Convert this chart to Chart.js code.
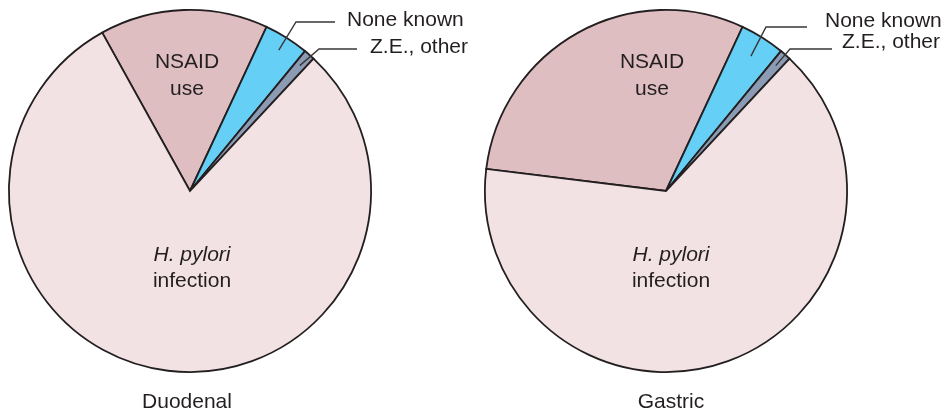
<!DOCTYPE html>
<html>
<head>
<meta charset="utf-8">
<script src="https://cdn.jsdelivr.net/npm/chart.js@4/dist/chart.umd.min.js"></script>
<style>
	html, body { margin:0; padding:0; background:#ffffff; }
	#wrap { position:relative; width:941px; height:414px; overflow:hidden; }
	.box { position:absolute; top:0; height:414px; }
</style>
</head>
<body>
<div id="wrap">
	<div class="box" style="left:0px;width:476px;"><canvas id="canvas_duodenal"></canvas></div>
	<div class="box" style="left:476px;width:465px;"><canvas id="canvas_gastric"></canvas></div>
</div>
<script>
// ulcer causes, percent of cases
var categories = ["NSAID use", "None known", "Z.E., other", "H. pylori infection"];
var duodenalValues = [15, 4, 1, 80];
var gastricValues = [30, 4, 1, 65];
var pieTitles = ["Duodenal", "Gastric"];

var sliceColors = ["#dfbec2", "#66cff5", "#8b9bb4", "#f2e2e3"];
var inkColor = "#231f20";
var fontName = '"Liberation Sans", Arial, Helvetica, sans-serif';

// text inside the slices and the two callouts, offsets from the pie centre
function drawLabels(chart, args, opts){
	var ctx = chart.ctx;
	var meta = chart.getDatasetMeta(0);
	var cx = meta.data[0].x;
	var cy = meta.data[0].y;
	ctx.save();
	ctx.fillStyle = inkColor;
	ctx.textAlign = "center";
	ctx.textBaseline = "alphabetic";
	ctx.font = "21px " + fontName;
	ctx.fillText("NSAID", cx + opts.nsaid[0], cy + opts.nsaid[1]);
	ctx.fillText("use", cx + opts.nsaid[0], cy + opts.nsaid[1] + 27);
	ctx.font = "italic 21px " + fontName;
	ctx.fillText("H. pylori", cx + opts.pylori[0], cy + opts.pylori[1]);
	ctx.font = "21px " + fontName;
	ctx.fillText("infection", cx + opts.pylori[0], cy + opts.pylori[1] + 26);

	// leader lines for the thin slices
	ctx.strokeStyle = "#3a3637";
	ctx.lineWidth = 1.4;
	ctx.textAlign = "left";
	for(var i = 0; i < opts.callouts.length; i++){
		var c = opts.callouts[i];
		var arc = meta.data[c.index];
		var mid = (arc.startAngle + arc.endAngle) / 2;
		var r = arc.outerRadius * c.depth;
		ctx.beginPath();
		ctx.moveTo(cx + Math.cos(mid) * r, cy + Math.sin(mid) * r);
		ctx.lineTo(cx + c.elbow[0], cy + c.elbow[1]);
		ctx.lineTo(cx + c.end, cy + c.elbow[1]);
		ctx.stroke();
		ctx.fillText(categories[c.index], cx + c.text[0], cy + c.text[1]);
	}

	ctx.textAlign = "center";
	ctx.fillText(opts.title, cx + opts.titleX, 408);
	ctx.restore();
}

var labelPlugin = { id:"sliceLabels", afterDraw:drawLabels };

function makePie(id, values, rotation, labelOpts, padRight){
	var canvas = document.getElementById(id);
	var ctx = canvas.getContext("2d");
	return new Chart(ctx, {
		type: "pie",
		data: {
			labels: categories,
			datasets: [{
				data: values,
				backgroundColor: sliceColors,
				borderColor: inkColor,
				borderWidth: 1.8,
				borderJoinStyle: "miter"
			}]
		},
		options: {
			responsive: true,
			maintainAspectRatio: false,
			animation: false,
			events: [],
			rotation: rotation,
			layout: { padding: { left:8, top:9, right:padRight, bottom:41 } },
			plugins: {
				legend: { display:false },
				tooltip: { enabled:false },
				sliceLabels: labelOpts
			}
		},
		plugins: [labelPlugin]
	});
}

makePie("canvas_duodenal", duodenalValues, -29, {
	title: pieTitles[0],
	titleX: -3,
	nsaid: [-3, -123],
	pylori: [2, 70],
	callouts: [
		{ index:1, depth:0.92, elbow:[106, -169], end:145, text:[157, -165] },
		{ index:2, depth:0.92, elbow:[129, -142], end:167, text:[180, -138] }
	]
}, 104);

makePie("canvas_gastric", gastricValues, -83, {
	title: pieTitles[1],
	titleX: 5,
	nsaid: [-14, -123],
	pylori: [5, 70],
	callouts: [
		{ index:1, depth:0.88, elbow:[100, -164], end:141, text:[159, -164] },
		{ index:2, depth:0.92, elbow:[124, -142], end:166, text:[176, -143] }
	]
}, 93);
</script>
</body>
</html>
